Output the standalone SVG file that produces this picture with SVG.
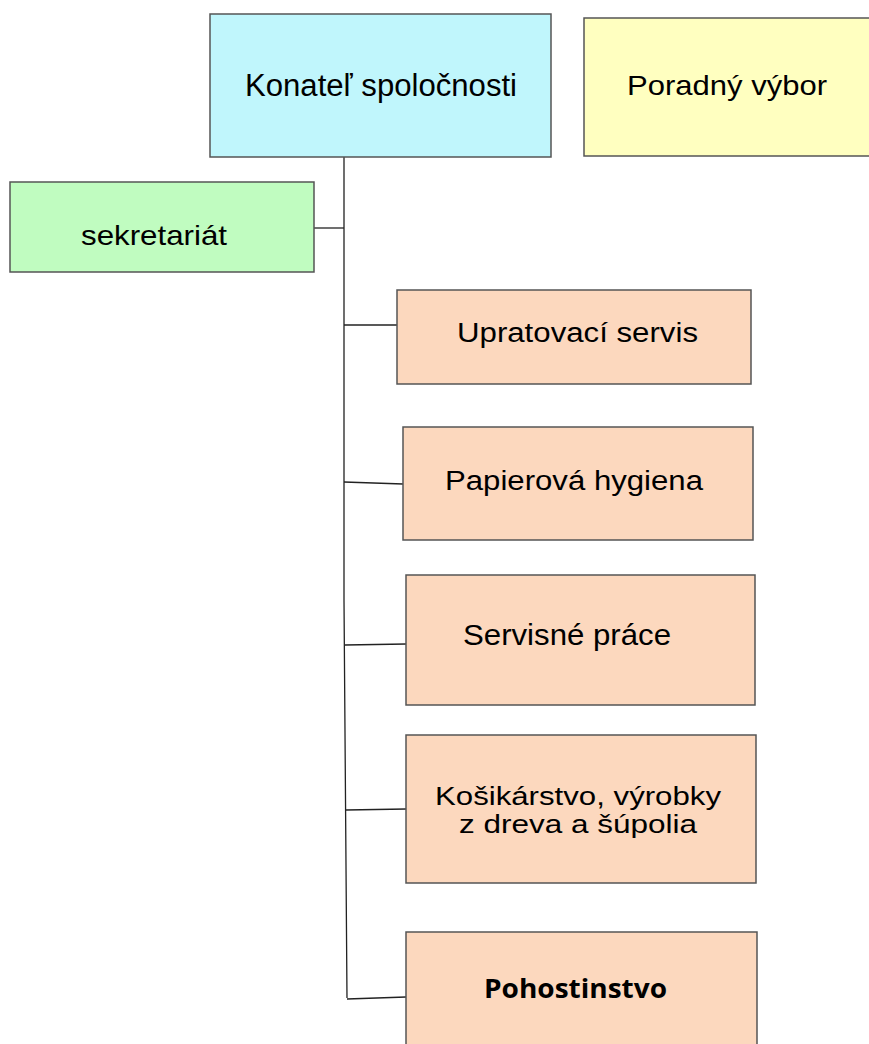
<svg xmlns="http://www.w3.org/2000/svg" width="869" height="1044" viewBox="0 0 869 1044">
<style>
.box{stroke:#555;stroke-width:1.5}
.t{font-family:"Liberation Sans",Arial,sans-serif;fill:#000;text-anchor:middle}
.b{font-family:"Open Sans","Noto Sans",sans-serif;font-size:27px;font-weight:bold;fill:#000;text-anchor:middle}
.c{stroke:#222;stroke-width:1.3;fill:none}
.peach{fill:#FCD8BE}
</style>
<rect width="869" height="1044" fill="#fff"/>
<g id="connectors">
<polyline class="c" points="344,157 344,600 347,998"/>
<line class="c" x1="314" y1="228" x2="344" y2="228"/>
<line class="c" x1="344" y1="325" x2="397" y2="325"/>
<line class="c" x1="344" y1="482" x2="403" y2="484"/>
<line class="c" x1="345" y1="645" x2="406" y2="644"/>
<line class="c" x1="346" y1="810" x2="406" y2="809"/>
<line class="c" x1="347" y1="999" x2="406" y2="997"/>
</g>
<g id="konatel"><rect class="box" x="210" y="14" width="341" height="143" fill="#C0F6FC"/><text class="t" x="381" y="96" font-size="31" textLength="272" lengthAdjust="spacingAndGlyphs">Konateľ spoločnosti</text></g>
<g id="poradny"><rect class="box" x="584" y="18" width="290" height="138" fill="#FFFFC0"/><text class="t" x="727" y="95" font-size="28" textLength="200" lengthAdjust="spacingAndGlyphs">Poradný výbor</text></g>
<g id="sekretariat"><rect class="box" x="10" y="182" width="304" height="90" fill="#C0FCC0"/><text class="t" x="154" y="245" font-size="28" textLength="146" lengthAdjust="spacingAndGlyphs">sekretariát</text></g>
<g id="upratovaci"><rect class="box peach" x="397" y="290" width="354" height="94"/><text class="t" x="577.5" y="342" font-size="27" textLength="241" lengthAdjust="spacingAndGlyphs">Upratovací servis</text></g>
<g id="papierova"><rect class="box peach" x="403" y="427" width="350" height="113"/><text class="t" x="574" y="490" font-size="27" textLength="258" lengthAdjust="spacingAndGlyphs">Papierová hygiena</text></g>
<g id="servisne"><rect class="box peach" x="406" y="575" width="349" height="130"/><text class="t" x="567" y="645" font-size="29" textLength="208" lengthAdjust="spacingAndGlyphs">Servisné práce</text></g>
<g id="kosikarstvo"><rect class="box peach" x="406" y="735" width="350" height="148"/><text class="t" x="578" y="805" font-size="26" textLength="286" lengthAdjust="spacingAndGlyphs">Košikárstvo, výrobky</text><text class="t" x="578" y="833" font-size="26" textLength="238" lengthAdjust="spacingAndGlyphs">z dreva a šúpolia</text></g>
<g id="pohostinstvo"><rect class="box peach" x="406" y="932" width="351" height="120"/><text class="b" x="575.5" y="998" textLength="183" lengthAdjust="spacingAndGlyphs">Pohostinstvo</text></g>
</svg>
